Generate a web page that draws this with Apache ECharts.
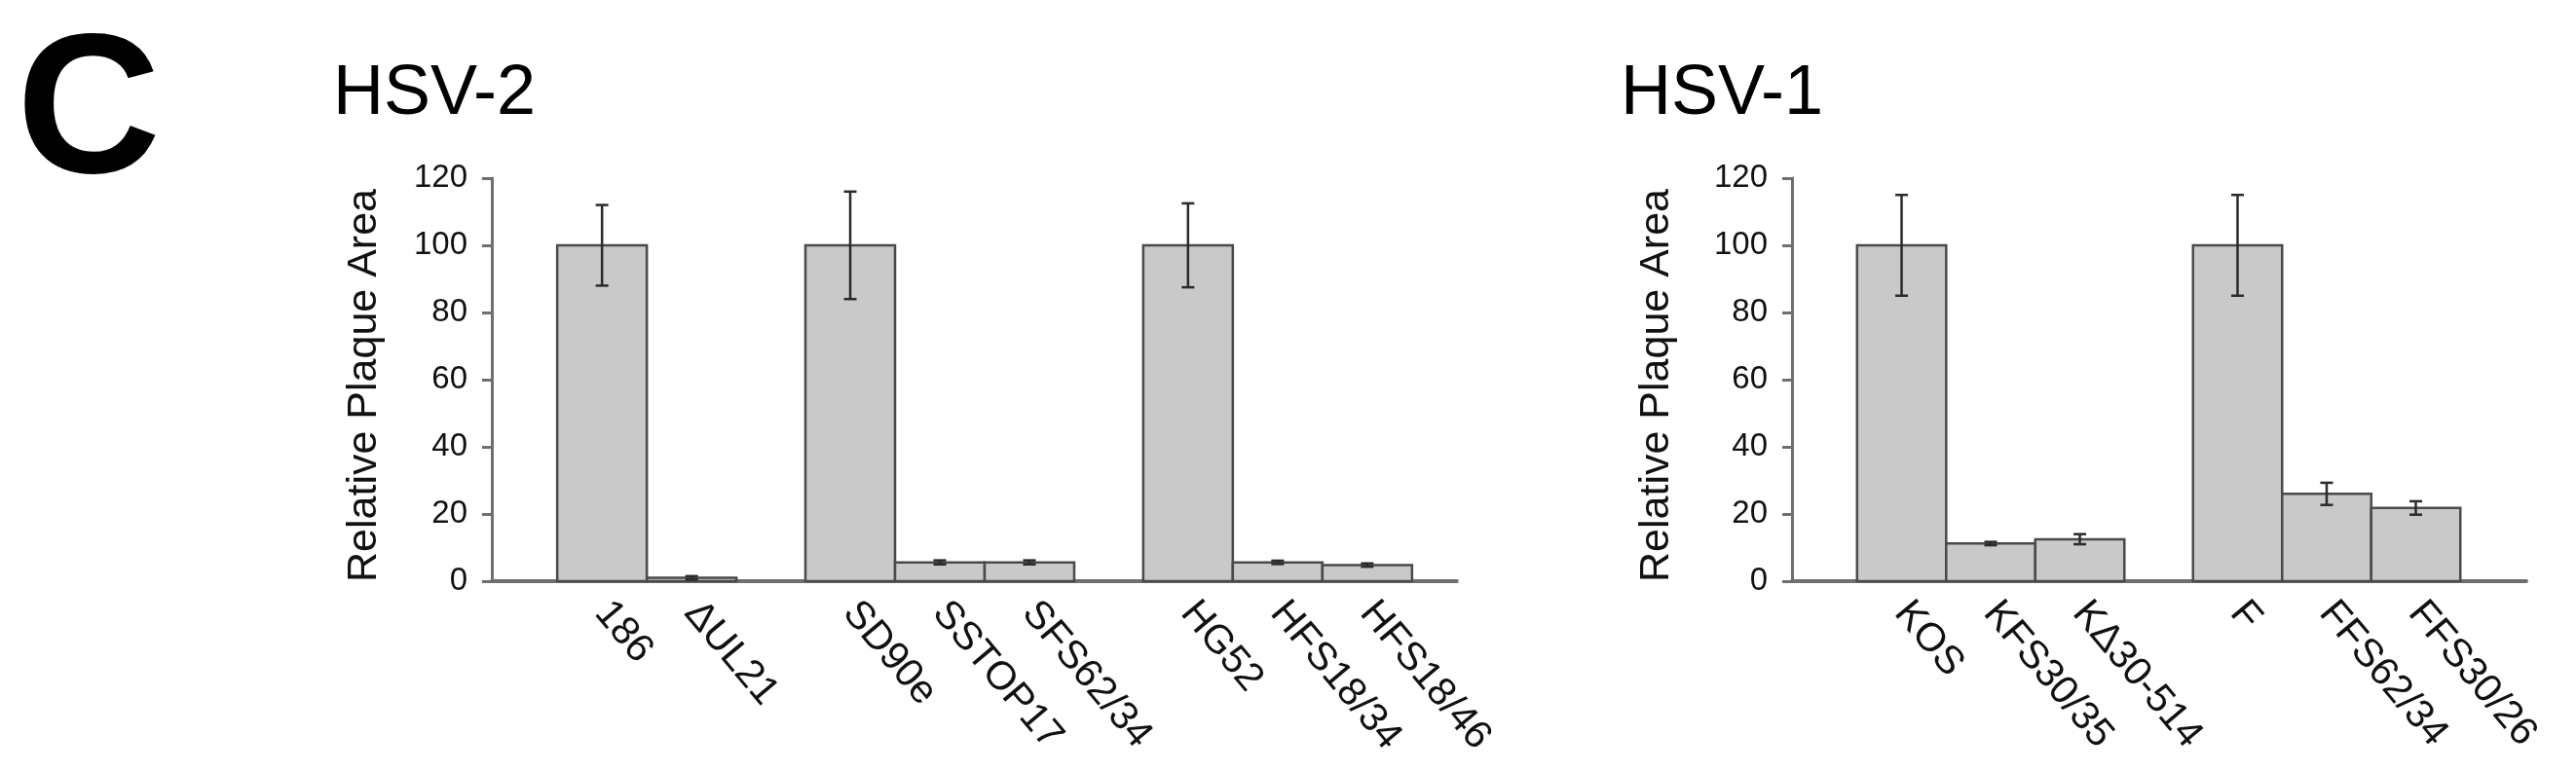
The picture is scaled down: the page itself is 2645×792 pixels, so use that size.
<!DOCTYPE html>
<html>
<head>
<meta charset="utf-8">
<script src="https://cdn.jsdelivr.net/npm/echarts@6/dist/echarts.min.js"></script>
<style>
  html, body { margin: 0; padding: 0; background: #ffffff; }
  #chart { width: 2645px; height: 792px; }
</style>
</head>
<body>
<div id="chart"></div>
<script>
// ---------------- data ----------------
const panelLetter = 'C';
const hsv2Title = 'HSV-2';
const hsv1Title = 'HSV-1';
const yAxisName = 'Relative Plaque Area';

const hsv2Categories = ['186', 'ΔUL21', 'SD90e', 'SSTOP17', 'SFS62/34', 'HG52', 'HFS18/34', 'HFS18/46'];
const hsv2GroupSizes = [2, 3, 3];
const hsv2Values = [100, 1, 100, 5.6, 5.6, 100, 5.6, 4.8];
const hsv2Errors = [12, 0.5, 16, 0.6, 0.6, 12.5, 0.5, 0.5];

const hsv1Categories = ['KOS', 'KFS30/35', 'KΔ30-514', 'F', 'FFS62/34', 'FFS30/26'];
const hsv1GroupSizes = [3, 3];
const hsv1Values = [100, 11.2, 12.5, 100, 26, 21.8];
const hsv1Errors = [15, 0.5, 1.5, 15, 3.3, 2];

const yTickMin = 0, yTickMax = 120, yTickStep = 20;

// ---------------- layout helpers ----------------
const FONT = '"Liberation Sans", Arial, Helvetica, sans-serif';
const LEAD_GAP = 0.73;   // gap before first bar, in bar widths
const GROUP_GAP = 0.77;  // gap between groups, in bar widths

function slotCenters(groupSizes) {
  const centers = [];
  let x = LEAD_GAP;
  groupSizes.forEach((n, g) => {
    if (g > 0) x += GROUP_GAP;
    for (let i = 0; i < n; i++) { centers.push(x + 0.5); x += 1; }
  });
  return { centers, end: x };
}

const hsv2Layout = slotCenters(hsv2GroupSizes);
const hsv1Layout = slotCenters(hsv1GroupSizes);
const hsv2Max = hsv2Layout.end + 0.5;
const hsv1Max = hsv1Layout.end + 0.74;

function labelFor(centers, names) {
  return function (v) {
    for (let i = 0; i < centers.length; i++) {
      if (Math.abs(centers[i] - v) < 1e-6) return names[i];
    }
    return '';
  };
}

const BAR_FILL = '#c9c9c9';
const BAR_STROKE = '#4a4a4a';
const AXIS_COLOR = '#6f6f6f';

function barRender(params, api) {
  const x = api.value(0), y = api.value(1);
  const p0 = api.coord([x - 0.5, y]);
  const p1 = api.coord([x + 0.5, 0]);
  return {
    type: 'rect',
    shape: { x: p0[0], y: p0[1], width: p1[0] - p0[0], height: p1[1] - p0[1] },
    style: { fill: BAR_FILL, stroke: BAR_STROKE, lineWidth: 2.5 }
  };
}

function errRender(params, api) {
  const x = api.value(0), lo = api.value(1), hi = api.value(2);
  const pt = api.coord([x, hi]);
  const pb = api.coord([x, lo]);
  const half = 6.5;
  const st = { stroke: '#2a2a2a', lineWidth: 2.5 };
  return {
    type: 'group',
    children: [
      { type: 'line', shape: { x1: pt[0], y1: pt[1], x2: pb[0], y2: pb[1] }, style: st },
      { type: 'line', shape: { x1: pt[0] - half, y1: pt[1], x2: pt[0] + half, y2: pt[1] }, style: st },
      { type: 'line', shape: { x1: pb[0] - half, y1: pb[1], x2: pb[0] + half, y2: pb[1] }, style: st }
    ]
  };
}

function makeYAxis(gridIndex, nameGap) {
  return {
    type: 'value', gridIndex,
    min: yTickMin, max: yTickMax, interval: yTickStep,
    name: yAxisName, nameLocation: 'middle', nameGap, nameRotate: 90,
    nameTextStyle: { fontSize: 43, color: '#111', fontFamily: FONT, padding: [0, 12, 0, 0] },
    axisLine: { show: true, lineStyle: { color: AXIS_COLOR, width: 3 } },
    axisTick: { show: true, length: 10, lineStyle: { color: AXIS_COLOR, width: 3 } },
    splitLine: { show: false },
    axisLabel: { fontSize: 33, color: '#111', fontFamily: FONT, margin: 25 }
  };
}

function makeXAxis(gridIndex, max, centers, names) {
  return {
    type: 'value', gridIndex, min: 0, max,
    axisLine: { show: true, onZero: false, lineStyle: { color: AXIS_COLOR, width: 4 } },
    axisTick: { show: false },
    splitLine: { show: false },
    axisLabel: {
      customValues: centers,
      formatter: labelFor(centers, names),
      rotate: -50, fontSize: 41, color: '#111', fontFamily: FONT, margin: 26
    }
  };
}

const option = {
  backgroundColor: '#ffffff',
  animation: false,
  grid: [
    { left: 505, top: 183, width: hsv2Max * 92, height: 414 },
    { left: 1840, top: 183, width: hsv1Max * 91.5, height: 414 }
  ],
  xAxis: [
    makeXAxis(0, hsv2Max, hsv2Layout.centers, hsv2Categories),
    makeXAxis(1, hsv1Max, hsv1Layout.centers, hsv1Categories)
  ],
  yAxis: [makeYAxis(0, 109), makeYAxis(1, 117)],
  series: [
    {
      type: 'custom', xAxisIndex: 0, yAxisIndex: 0, renderItem: barRender,
      encode: { x: 0, y: 1 },
      data: hsv2Layout.centers.map((c, i) => [c, hsv2Values[i]])
    },
    {
      type: 'custom', xAxisIndex: 0, yAxisIndex: 0, renderItem: errRender, z: 3,
      encode: { x: 0, y: [1, 2] },
      data: hsv2Layout.centers.map((c, i) => [c, hsv2Values[i] - hsv2Errors[i], hsv2Values[i] + hsv2Errors[i]])
    },
    {
      type: 'custom', xAxisIndex: 1, yAxisIndex: 1, renderItem: barRender,
      encode: { x: 0, y: 1 },
      data: hsv1Layout.centers.map((c, i) => [c, hsv1Values[i]])
    },
    {
      type: 'custom', xAxisIndex: 1, yAxisIndex: 1, renderItem: errRender, z: 3,
      encode: { x: 0, y: [1, 2] },
      data: hsv1Layout.centers.map((c, i) => [c, hsv1Values[i] - hsv1Errors[i], hsv1Values[i] + hsv1Errors[i]])
    }
  ],
  graphic: [
    { type: 'text', x: 17, y: 120, style: { text: panelLetter, fontSize: 205, fontWeight: 'bold', fontFamily: FONT, fill: '#000', verticalAlign: 'middle' } },
    { type: 'text', x: 342, y: 97, style: { text: hsv2Title, fontSize: 72, fontFamily: FONT, fill: '#000', verticalAlign: 'middle' } },
    { type: 'text', x: 1664, y: 97, style: { text: hsv1Title, fontSize: 72, fontFamily: FONT, fill: '#000', verticalAlign: 'middle' } }
  ]
};

const chart = echarts.init(document.getElementById('chart'), null, { renderer: 'canvas' });
chart.setOption(option);
</script>
</body>
</html>
